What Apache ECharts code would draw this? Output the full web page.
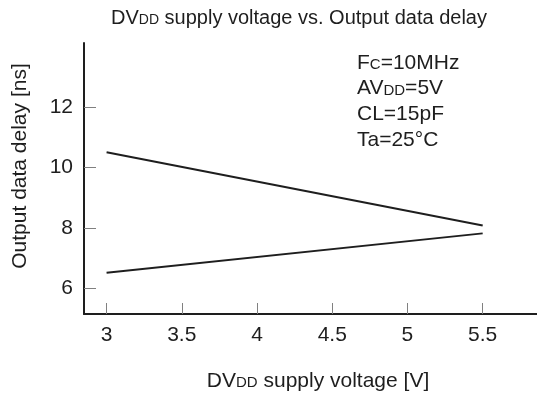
<!DOCTYPE html>
<html>
<head>
<meta charset="utf-8">
<script src="https://cdn.jsdelivr.net/npm/echarts@6/dist/echarts.min.js"></script>
<style>
  html, body { margin: 0; padding: 0; background: #fff; }
  #chart { width: 537px; height: 397px; }
</style>
</head>
<body>
<div id="chart"></div>
<script>
// DVDD supply voltage [V] at the two ends of each curve
const voltage = [3, 5.5];
// Output data delay [ns]
const delayUpper = [10.5, 8.08];
const delayLower = [6.52, 7.82];

const xTicks = [3, 3.5, 4, 4.5, 5, 5.5];
const yTicks = [6, 8, 10, 12];

const conditions = [
  ['F', 'C', '=10MHz'],
  ['AV', 'DD', '=5V'],
  ['CL=15pF', '', ''],
  ['Ta=25°C', '', '']
];

const FONT = '"Liberation Sans", Arial, Helvetica, sans-serif';
const INK = '#1e1e1e';
const BASE = 21;
const SMALL = 15;
const TITLE = 20;
const TITLE_SMALL = 14;

function makeRich(big, small) {
  return {
    n: { fontFamily: FONT, fontSize: big, color: INK, verticalAlign: 'bottom' },
    s: { fontFamily: FONT, fontSize: small, color: INK, verticalAlign: 'bottom', padding: [0, 0, 1, 0] }
  };
}

function tok(style, str) { return str ? '{' + style + '|' + str + '}' : ''; }

function textEl(text, x, y, size, smallSize, opts) {
  return Object.assign({
    type: 'text',
    x: x, y: y,
    style: {
      text: text,
      rich: makeRich(size, smallSize),
      font: size + 'px ' + FONT,
      fill: INK,
      align: 'center',
      verticalAlign: 'middle'
    },
    silent: true
  }, opts || {});
}

const chart = echarts.init(document.getElementById('chart'), null, { renderer: 'canvas' });

const graphics = [
  textEl(tok('n', 'DV') + tok('s', 'DD') + tok('n', ' supply voltage vs. Output data delay'), 299, 18, TITLE, TITLE_SMALL),
  textEl(tok('n', 'DV') + tok('s', 'DD') + tok('n', ' supply voltage [V]'), 318, 381, BASE, SMALL),
  textEl(tok('n', 'Output data delay [ns]'), 20, 166, BASE, SMALL, { rotation: Math.PI / 2 })
];
const condY = [63, 88.5, 114.5, 140];
conditions.forEach(function (c, i) {
  const t = tok('n', c[0]) + tok('s', c[1]) + tok('n', c[2]);
  const el = textEl(t, 357, condY[i], BASE, SMALL);
  el.style.align = 'left';
  graphics.push(el);
});

chart.setOption({
  animation: false,
  backgroundColor: '#fff',
  grid: { left: 84, right: 0, top: 43, bottom: 83, containLabel: false },
  xAxis: {
    type: 'value',
    min: 2.85,
    max: 5.861,
    axisLine: { show: true, onZero: false, lineStyle: { color: INK, width: 2 } },
    axisTick: { show: true, inside: true, length: 11, customValues: xTicks, lineStyle: { color: '#808080', width: 1 } },
    axisLabel: { customValues: xTicks, margin: 11, fontFamily: FONT, fontSize: BASE, color: INK, formatter: function (v) { return String(v); } },
    splitLine: { show: false }
  },
  yAxis: {
    type: 'value',
    min: 5.156,
    max: 14.11,
    axisLine: { show: true, onZero: false, lineStyle: { color: INK, width: 2 } },
    axisTick: { show: true, inside: true, length: 12, customValues: yTicks, lineStyle: { color: '#808080', width: 1 } },
    axisLabel: { customValues: yTicks, margin: 11, fontFamily: FONT, fontSize: BASE, color: INK },
    splitLine: { show: false }
  },
  series: [
    {
      type: 'line',
      data: voltage.map(function (v, i) { return [v, delayUpper[i]]; }),
      showSymbol: false,
      lineStyle: { color: INK, width: 2 }
    },
    {
      type: 'line',
      data: voltage.map(function (v, i) { return [v, delayLower[i]]; }),
      showSymbol: false,
      lineStyle: { color: INK, width: 2 }
    }
  ],
  graphic: graphics
});
</script>
</body>
</html>
